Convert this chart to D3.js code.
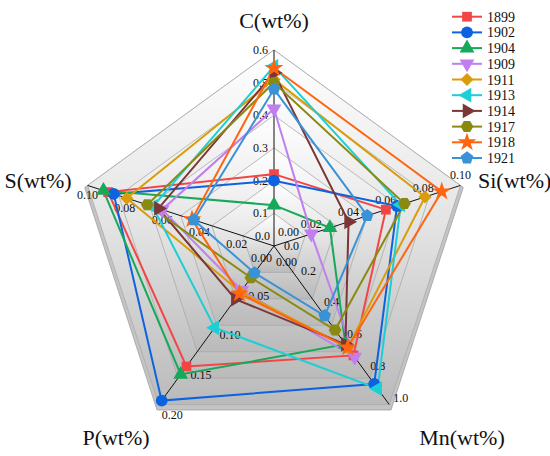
<!DOCTYPE html>
<html><head><meta charset="utf-8">
<script src="https://cdn.jsdelivr.net/npm/d3@7"></script>
<style>body{margin:0;background:#fff}svg{display:block}</style>
</head><body><svg id="c" width="550" height="456" font-family="Liberation Serif"></svg>
<script>
const years = ["1899","1902","1904","1909","1911","1913","1914","1917","1918","1921"];
const colors = ["#f24646","#0d62e0","#17a85a","#c07ef0","#d99c0b","#1ccfd4","#7b3636","#8a8a12","#ff650f","#3a92d6"];
const axes = ["C(wt%)","Si(wt%)","Mn(wt%)","P(wt%)","S(wt%)"];
const axisMax = [0.6, 0.10, 1.0, 0.20, 0.10];
const cTicks = ["0.0","0.1","0.2","0.3","0.4","0.5","0.6"];
const siTicks = ["0.00","0.02","0.04","0.06","0.08","0.10"];
const mnTicks = ["0.0","0.2","0.4","0.6","0.8","1.0"];
const pTicks = ["0.00","0.05","0.10","0.15","0.20"];
const sTicks = ["0.00","0.02","0.04","0.06","0.08","0.10"];
const cVals  = [0.22, 0.20, 0.125, 0.42, 0.51, 0.55, 0.53, 0.50, 0.545, 0.48];
const siVals = [0.060, 0.066, 0.030, 0.020, 0.081, 0.068, 0.040, 0.070, 0.090, 0.050];
const mnVals = [0.69, 0.87, 0.62, 0.70, 0.64, 0.90, 0.62, 0.53, 0.64, 0.44];
const pVals  = [0.152, 0.195, 0.162, 0.056, 0.058, 0.103, 0.067, 0.040, 0.060, 0.034];
const sVals  = [0.089, 0.086, 0.0915, 0.060, 0.079, 0.065, 0.062, 0.068, 0.044, 0.043];

const svg = d3.select("#c");
const cx = 274, cy = 246, R = 196;
const angles = [-90, -18, 54, 126, 198].map(a => a * Math.PI / 180);
const scales = axisMax.map(m => d3.scaleLinear().domain([0, m]).range([0, R]));
const pt = (i, v) => { const r = scales[i](v); return [cx + r * Math.cos(angles[i]), cy + r * Math.sin(angles[i])]; };
const tickSets = [cTicks, siTicks, mnTicks, pTicks, sTicks];
const FONT = "Liberation Serif";

// background rings (6 levels, following C axis ticks)
const defs = svg.append("defs");
const g = defs.append("linearGradient").attr("id","bg").attr("x1",0).attr("y1",0).attr("x2",0).attr("y2",1);
g.append("stop").attr("offset","0%").attr("stop-color","#ffffff");
g.append("stop").attr("offset","50%").attr("stop-color","#e3e3e3");
g.append("stop").attr("offset","100%").attr("stop-color","#bababa");
const ringLevels = cTicks.slice(1).map(t => +t).reverse();
const bgG = svg.append("g");
const rim = angles.map(a => [cx + (R + 3) * Math.cos(a), cy + 3 + (R + 3) * Math.sin(a)]);
bgG.append("path").attr("d", "M" + rim.join("L") + "Z").attr("fill","#c4c4c4").attr("stroke","#a0a0a0").attr("stroke-width",0.8);
ringLevels.forEach(lv => {
  const f = lv / axisMax[0];
  const poly = angles.map(a => [cx + f * R * Math.cos(a), cy + f * R * Math.sin(a)]);
  bgG.append("path").attr("d", "M" + poly.join("L") + "Z")
    .attr("fill","url(#bg)").attr("stroke","#a9a9a9").attr("stroke-width",0.8);
});

// axes lines
axes.forEach((a, i) => {
  const e = pt(i, axisMax[i]);
  svg.append("line").attr("x1",cx).attr("y1",cy).attr("x2",e[0]).attr("y2",e[1])
    .attr("stroke","#111").attr("stroke-width",1);
});

// tick labels
const tg = svg.append("g").attr("font-family", FONT).attr("font-size",12).attr("fill","#111");
const tickPlace = [
  {anchor:"end", dx:-6, dy:4},
  {anchor:"middle", dx:0, dy:-6},
  {anchor:"start", dx:4, dy:-3},
  {anchor:"start", dx:3, dy:14},
  {anchor:"middle", dx:0, dy:14}
];
// zero labels clustered round the centre: [dx, dy, anchor]
const zeroPlace = [[-4,-6,"end"],[4,-10,"start"],[10,4,"start"],[2,20,"start"],[-2,16,"end"]];
tickSets.forEach((ts, i) => {
  ts.forEach((t, j) => {
    const p = pt(i, +t);
    const el = tg.append("text").attr("font-family", FONT).text(t);
    if (j === 0) {
      el.attr("x", cx + zeroPlace[i][0]).attr("y", cy + zeroPlace[i][1]).attr("text-anchor", zeroPlace[i][2]);
    } else {
      el.attr("x", p[0] + tickPlace[i].dx).attr("y", p[1] + tickPlace[i].dy).attr("text-anchor", tickPlace[i].anchor);
    }
  });
});

// axis titles
const titlePos = [[274,28,"middle"],[478,188,"start"],[462,445,"middle"],[116,445,"middle"],[38,188,"middle"]];
axes.forEach((a, i) => {
  svg.append("text").attr("x", titlePos[i][0]).attr("y", titlePos[i][1]).attr("text-anchor", titlePos[i][2])
    .attr("font-family", FONT).attr("font-size",22).attr("fill","#111").text(a);
});

// custom symbols
const polySym = (n, rot) => ({ draw(ctx, size) {
  const r = Math.sqrt(size / (n * 0.5 * Math.sin(2 * Math.PI / n)));
  for (let k = 0; k < n; k++) {
    const a = rot + k * 2 * Math.PI / n;
    const x = r * Math.cos(a), y = r * Math.sin(a);
    if (k === 0) ctx.moveTo(x, y); else ctx.lineTo(x, y);
  }
  ctx.closePath();
}});
const symbols = [
  {t: d3.symbolSquare, s: 95, r: 0},
  {t: d3.symbolCircle, s: 110, r: 0},
  {t: d3.symbolTriangle, s: 95, r: 0},
  {t: d3.symbolTriangle, s: 95, r: 180},
  {t: d3.symbolSquare, s: 85, r: 45},
  {t: d3.symbolTriangle, s: 95, r: -90},
  {t: d3.symbolTriangle, s: 95, r: 90},
  {t: polySym(6, 0), s: 105, r: 0},
  {t: d3.symbolStar, s: 110, r: 0},
  {t: polySym(5, -Math.PI/2), s: 105, r: 0}
];

const series = years.map((y, k) => [cVals[k], siVals[k], mnVals[k], pVals[k], sVals[k]]);
const line = d3.line().curve(d3.curveLinearClosed);
const dg = svg.append("g");
series.forEach((vals, k) => {
  const pts = vals.map((v, i) => pt(i, v));
  dg.append("path").attr("d", line(pts)).attr("fill","none").attr("stroke", colors[k]).attr("stroke-width",2);
});
series.forEach((vals, k) => {
  const pts = vals.map((v, i) => pt(i, v));
  pts.forEach(p => {
    dg.append("path").attr("d", d3.symbol().type(symbols[k].t).size(symbols[k].s)())
      .attr("transform", `translate(${p[0]},${p[1]}) rotate(${symbols[k].r})`).attr("fill", colors[k]);
  });
});

// legend
const lg = svg.append("g");
years.forEach((y, k) => {
  const yy = 16.7 + k * 15.7;
  lg.append("line").attr("x1",452).attr("x2",482).attr("y1",yy).attr("y2",yy).attr("stroke",colors[k]).attr("stroke-width",2);
  lg.append("path").attr("d", d3.symbol().type(symbols[k].t).size(symbols[k].s)())
    .attr("transform", `translate(467,${yy}) rotate(${symbols[k].r})`).attr("fill", colors[k]);
  lg.append("text").attr("x",487).attr("y",yy+5).attr("font-family", FONT)
    .attr("font-size",14).attr("fill","#111").text(y);
});
</script></body></html>
